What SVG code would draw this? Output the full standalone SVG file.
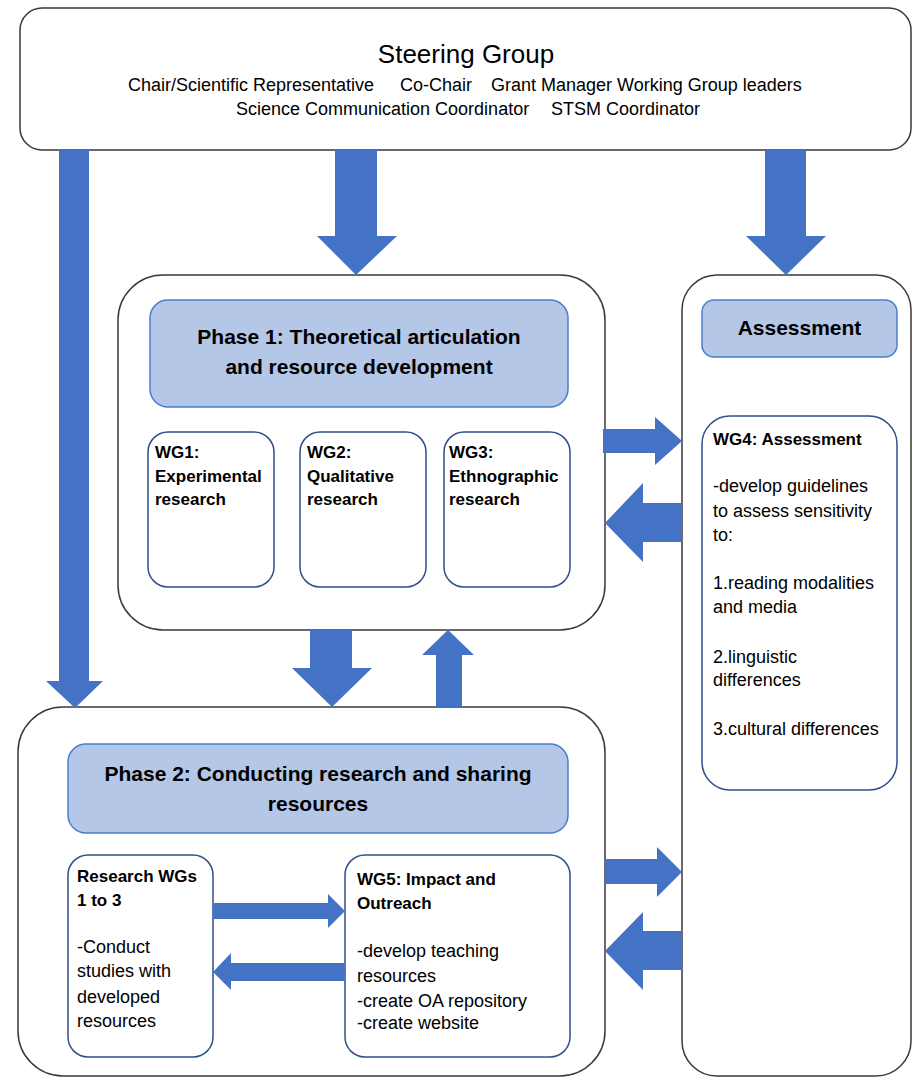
<svg xmlns="http://www.w3.org/2000/svg" width="913" height="1078" viewBox="0 0 913 1078">
<style>
.outer{fill:#fff;stroke:#3a3a3a;stroke-width:1.5}
.hdr{fill:#b4c7e7;stroke:#4a7cd0;stroke-width:1.5}
.wg{fill:#fff;stroke:#2f4f8a;stroke-width:1.5}
.arr{fill:#4472c4}
text{font-family:"Liberation Sans",Arial,sans-serif;fill:#000}
.t18{font-size:18px}
.b17{font-size:17px;font-weight:bold}
.h21{font-size:21px;font-weight:bold}
.mid{text-anchor:middle}
</style>
<rect width="913" height="1078" fill="#fff"/>
<g id="steering-group">
<rect class="outer" x="20" y="8" width="891" height="142" rx="22"/>
<text class="mid" x="466" y="63" font-size="26">Steering Group</text>
<text class="t18" x="128" y="91">Chair/Scientific Representative</text>
<text class="t18" x="400" y="91">Co-Chair</text>
<text class="t18" x="491" y="91">Grant Manager Working Group leaders</text>
<text class="t18" x="236" y="115">Science Communication Coordinator</text>
<text class="t18" x="551" y="115">STSM Coordinator</text>
</g>
<g id="phase1">
<rect class="outer" x="118" y="275" width="487" height="355" rx="45"/>
<rect class="hdr" x="150" y="300" width="418" height="107" rx="18"/>
<text class="h21 mid" x="359" y="344">Phase 1: Theoretical articulation</text>
<text class="h21 mid" x="359" y="374">and resource development</text>
</g>
<g id="wg1">
<rect class="wg" x="148" y="432" width="126" height="155" rx="20"/>
<text class="b17" x="155" y="458">WG1:</text>
<text class="b17" x="155" y="482">Experimental</text>
<text class="b17" x="155" y="505">research</text>
</g>
<g id="wg2">
<rect class="wg" x="300" y="432" width="126" height="155" rx="20"/>
<text class="b17" x="307" y="458">WG2:</text>
<text class="b17" x="307" y="482">Qualitative</text>
<text class="b17" x="307" y="505">research</text>
</g>
<g id="wg3">
<rect class="wg" x="444" y="432" width="126" height="155" rx="20"/>
<text class="b17" x="449" y="458">WG3:</text>
<text class="b17" x="449" y="482">Ethnographic</text>
<text class="b17" x="449" y="505">research</text>
</g>
<g id="assessment">
<rect class="outer" x="682" y="275" width="229" height="801" rx="35"/>
<rect class="hdr" x="702" y="300" width="195" height="57" rx="12"/>
<text class="h21 mid" x="799.5" y="335">Assessment</text>
</g>
<g id="wg4">
<rect class="wg" x="702" y="416" width="195" height="374" rx="28"/>
<text class="b17" x="713" y="445">WG4: Assessment</text>
<text class="t18" x="713" y="492">-develop guidelines</text>
<text class="t18" x="713" y="517">to assess sensitivity</text>
<text class="t18" x="713" y="541">to:</text>
<text class="t18" x="713" y="589">1.reading modalities</text>
<text class="t18" x="713" y="613">and media</text>
<text class="t18" x="713" y="663">2.linguistic</text>
<text class="t18" x="713" y="686">differences</text>
<text class="t18" x="713" y="735">3.cultural differences</text>
</g>
<g id="phase2">
<rect class="outer" x="18" y="707" width="587" height="369" rx="45"/>
<rect class="hdr" x="68" y="744" width="500" height="89" rx="18"/>
<text class="h21 mid" x="318" y="781">Phase 2: Conducting research and sharing</text>
<text class="h21 mid" x="318" y="811">resources</text>
</g>
<g id="research-wgs">
<rect class="wg" x="68" y="855" width="145" height="202" rx="20"/>
<text class="b17" x="77" y="882">Research WGs</text>
<text class="b17" x="77" y="906">1 to 3</text>
<text class="t18" x="77" y="953">-Conduct</text>
<text class="t18" x="77" y="977">studies with</text>
<text class="t18" x="77" y="1003">developed</text>
<text class="t18" x="77" y="1027">resources</text>
</g>
<g id="wg5">
<rect class="wg" x="345" y="855" width="225" height="202" rx="20"/>
<text class="b17" x="357" y="885">WG5: Impact and</text>
<text class="b17" x="357" y="909">Outreach</text>
<text class="t18" x="357" y="957">-develop teaching</text>
<text class="t18" x="357" y="982">resources</text>
<text class="t18" x="357" y="1007">-create OA repository</text>
<text class="t18" x="357" y="1029">-create website</text>
</g>
<g id="connectors">
<polygon class="arr" points="59,150 89,150 89,681 103,681 75,708 46,681 59,681"/>
<polygon class="arr" points="335,150 377,150 377,236 397,236 356,275 317,236 335,236"/>
<polygon class="arr" points="765,150 806,150 806,236 826,236 786,275 746,236 765,236"/>
<polygon class="arr" points="603,429 655,429 655,417 682,441 655,465 655,453 603,453"/>
<polygon class="arr" points="682,503 643,503 643,483 605,523 643,562 643,542 682,542"/>
<polygon class="arr" points="310,630 352,630 352,668 372,668 332,707 292,668 310,668"/>
<polygon class="arr" points="436,707 462,707 462,655 474,655 448,630 422,655 436,655"/>
<polygon class="arr" points="605,859 657,859 657,847 682,872 657,897 657,884 605,884"/>
<polygon class="arr" points="682,931 643,931 643,912 605,951 643,990 643,970 682,970"/>
<polygon class="arr" points="213,903 328,903 328,894 345,911 328,928 328,919 213,919"/>
<polygon class="arr" points="345,963 231,963 231,953 213,972 231,990 231,981 345,981"/>
</g>
</svg>
